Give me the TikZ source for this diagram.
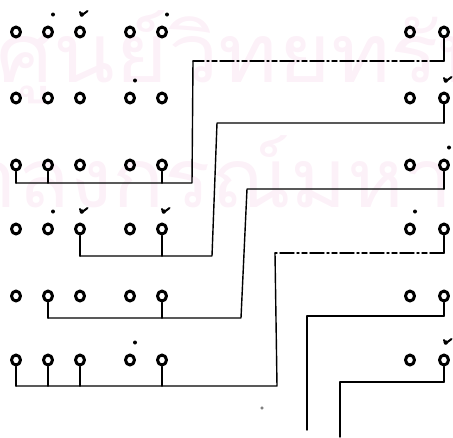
\documentclass[tikz,border=0pt]{standalone}
\usepackage{fontspec}
\newfontfamily\thaifont[Script=Thai]{Loma}
\usetikzlibrary{shapes.geometric, calc}

\definecolor{wmpink}{RGB}{252,241,248}

\begin{document}
\begin{tikzpicture}[x=1pt, y=-1pt, line cap=round, line join=round,
  syl/.style={draw, ellipse, inner sep=0pt, minimum width=9pt,
    minimum height=10pt, line width=3pt},
  stem/.style={line width=1.5pt},
  link/.style={line width=1.4pt},
  brokenline/.style={dash pattern=on 14pt off 3pt on 5pt off 3pt on 2pt off 3pt},
  tone/.style={line width=2pt},
  wmark/.style={anchor=base west, inner sep=0pt, text=wmpink,
    font=\thaifont\fontsize{82}{82}\selectfont}]

  \useasboundingbox (0,0) rectangle (453,437);

  %% ---- watermark ----
  \begin{scope}
    \clip (0,0) rectangle (453,437);
    \node[wmark, xscale=1.1] (wm1) at (-4,82) {ศูนย์วิทยทรัพยากร};
    \node[wmark, xscale=1.05] (wm2) at (-140,207) {จุฬาลงกรณ์มหาวิทยาลัย};
  \end{scope}

  %% ---- syllables ----
  \foreach \r/\y in {1/32, 2/98, 3/165, 4/229, 5/296, 6/360}{
    \foreach \c/\x in {1/16, 2/48, 3/80, 4/130, 5/162, 6/410, 7/444}{
      \node[syl] (s\r\c) at (\x,\y) {};
    }
  }

  %% ---- tone marks ----
  \foreach \n in {s12, s15, s24, s37, s42, s46, s64}
    \fill ($(\n)+(5,-17.5)$) circle (2pt);
  \foreach \n in {s13, s27, s43, s45, s67}{
    \fill ($(\n)+(1.8,-17.5)$) circle (2.2pt);
    \draw[tone] ($(\n)+(0,-20)$) -- ++(1.5,3.5) -- ++(6,-4.5);
  }

  %% ---- corners ----
  \coordinate (a1) at (193,61);
  \coordinate (a2) at (192,183);
  \coordinate (b1) at (217,123);
  \coordinate (b2) at (212,256);
  \coordinate (c1) at (247,189);
  \coordinate (c2) at (241,318);
  \coordinate (d1) at (275,253);
  \coordinate (d2) at (277,386);
  \coordinate (e1) at (307,316);
  \coordinate (e2) at (307,430);
  \coordinate (f1) at (340,382);
  \coordinate (f2) at (340,437);
  \coordinate (spk) at (262,408);

  %% ---- line 1 ----
  \draw[stem] (s17.south) -- (s17 |- a1);
  \draw[link, brokenline] (s17 |- a1) -- (a1);
  \draw[link] (a1) -- (a2) -- (a2 -| s31);
  \foreach \n in {s31, s32, s35}
    \draw[stem] (\n.south) -- (\n |- a2);

  %% ---- line 2 ----
  \draw[stem] (s27.south) -- (s27 |- b1);
  \draw[link] (s27 |- b1) -- (b1) -- (b2) -- (b2 -| s43);
  \foreach \n in {s43, s45}
    \draw[stem] (\n.south) -- (\n |- b2);

  %% ---- line 3 ----
  \draw[stem] (s37.south) -- (s37 |- c1);
  \draw[link] (s37 |- c1) -- (c1) -- (c2) -- (c2 -| s52);
  \foreach \n in {s52, s55}
    \draw[stem] (\n.south) -- (\n |- c2);

  %% ---- line 4 ----
  \draw[stem] (s47.south) -- (s47 |- d1);
  \draw[link, brokenline] (s47 |- d1) -- (d1);
  \draw[link] (d1) -- (d2) -- (d2 -| s61);
  \foreach \n in {s61, s62, s63, s65}
    \draw[stem] (\n.south) -- (\n |- d2);

  %% ---- line 5 ----
  \draw[stem] (s57.south) -- (s57 |- e1);
  \draw[link] (s57 |- e1) -- (e1) -- (e2);

  %% ---- line 6 ----
  \draw[stem] (s67.south) -- (s67 |- f1);
  \draw[link] (s67 |- f1) -- (f1) -- (f2);

  %% ---- speck ----
  \draw[thin] (spk) circle (1.3pt);

\end{tikzpicture}
\end{document}
